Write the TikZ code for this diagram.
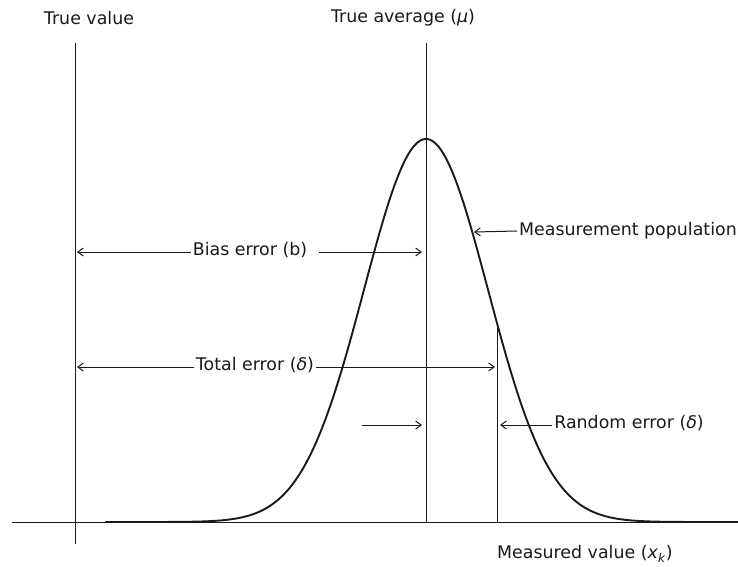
\documentclass[tikz,border=0pt]{standalone}
\usepackage{fontspec}
\setmainfont{DejaVu Sans}
\usepackage{tikz}
\usetikzlibrary{arrows.meta,positioning,calc}
\definecolor{Ink}{HTML}{1A1A1A}

\begin{document}
\begin{tikzpicture}[x=1pt, y=-1pt,
    every node/.style={font=\fontsize{17.4}{21}\selectfont, text=Ink, inner sep=2pt},
    guide/.style={draw=Ink, line width=1pt},
    errarrow/.style={draw=Ink, line width=1pt, -{Straight Barb[length=5.5pt,width=8pt]}}]
  \useasboundingbox (0,0) rectangle (738,566);
  % axis and the three vertical lines
  \coordinate (axL) at (12,522);
  \coordinate (axR) at (738,522);
  \draw[guide] (axL) -- (axR);
  \node (tv) at (89,18) {True value};
  \node (ta) at (403,18) {True average (\textit{μ})};
  \node (mv) at (585,554) {Measured value (\textit{x}\textsubscript{\textit{k}})};
  \coordinate (tvT) at (75,43);
  \coordinate (tvB) at (75,544);
  \coordinate (taT) at (426,43);
  \coordinate (taB) at (426,522);
  \coordinate (mvT) at (497,328);
  \coordinate (mvB) at (497,522);
  \draw[guide] (tvT) -- (tvB);
  \draw[guide] (taT) -- (taB);
  \draw[guide] (mvT) -- (mvB);
  % measurement population
  \draw[Ink, line width=1.9pt, domain=105:738, samples=220, smooth]
    plot ({\x},{522-383*exp(-0.5*((\x-426)/62)^2)});
  % error labels and arrows
  \node (pop) at (628,231) {Measurement population};
  \coordinate (popTip) at (474,232);
  \draw[errarrow] (pop.west) -- (popTip);
  \node (bias) at (250,250) {Bias error (b)};
  \coordinate (biasL) at (77,252);
  \coordinate (biasR) at (422,252);
  \draw[errarrow] (bias.west |- biasL) -- (biasL);
  \draw[errarrow] ([xshift=10pt]bias.east |- biasR) -- (biasR);
  \node (total) at (255,365) {Total error (\textit{δ})};
  \coordinate (totL) at (77,367);
  \coordinate (totR) at (495,367);
  \draw[errarrow] (total.west |- totL) -- (totL);
  \draw[errarrow] (total.east |- totR) -- (totR);
  \node (rand) at (629,423) {Random error (\textit{δ})};
  \coordinate (randS) at (362,425);
  \coordinate (randM) at (422,425);
  \coordinate (randR) at (500,425);
  \draw[errarrow] (randS) -- (randM);
  \draw[errarrow] (rand.west |- randR) -- (randR);
\end{tikzpicture}
\end{document}
